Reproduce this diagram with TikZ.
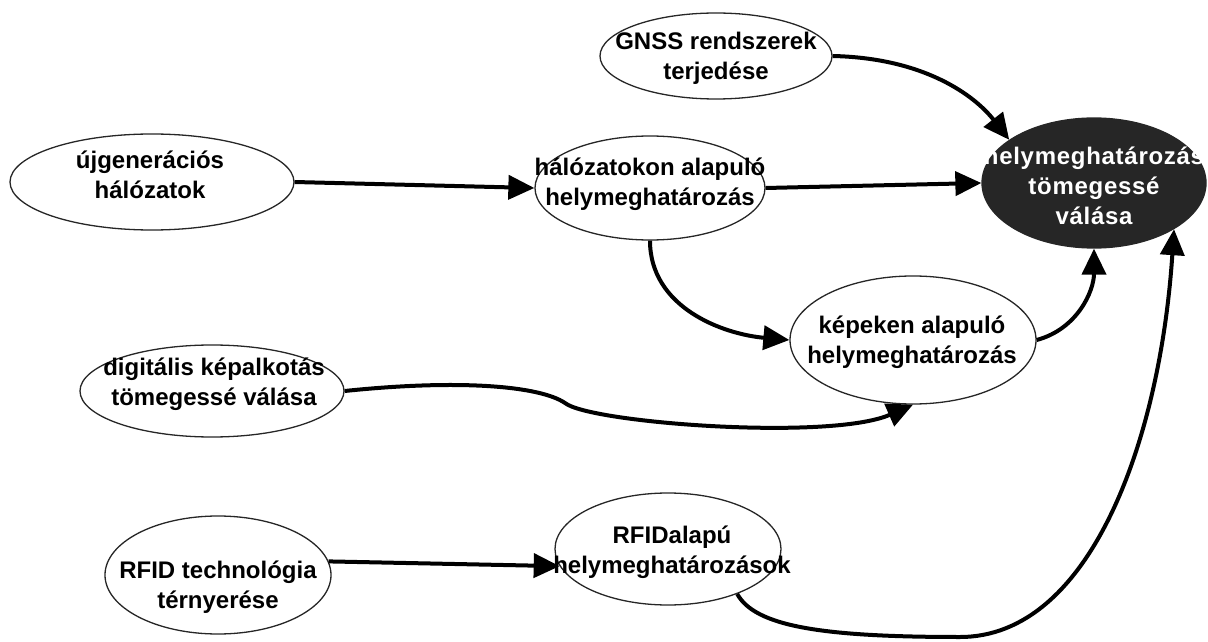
\documentclass[tikz,border=0pt]{standalone}
\usepackage{fontspec}
\setmainfont{Liberation Sans}
\usetikzlibrary{shapes.geometric,arrows.meta}
\begin{document}
\begin{tikzpicture}[x=1pt,y=1pt,
  ell/.style={draw=black!85, line width=1.3pt, ellipse, inner sep=0pt, fill=white},
  dark/.style={ell, fill=black!85},
  lbl/.style={font=\bfseries\fontsize{24}{30}\selectfont, align=center, inner sep=0pt},
  wlbl/.style={lbl, text=white, font=\bfseries\fontsize{24}{30}\selectfont\addfontfeature{LetterSpace=3}},
  conn/.style={line width=4pt, -{Triangle[length=26pt,width=24pt]}},
]
\useasboundingbox (0,0) rectangle (1208,641);
% ellipses
\node[ell, minimum width=232pt, minimum height=86pt] (gnss) at (716,585) {};
\node[dark, minimum width=224pt, minimum height=130pt] (target) at (1094,458) {};
\node[ell, minimum width=284pt, minimum height=96pt] (ujgen) at (152,459) {};
\node[ell, minimum width=230pt, minimum height=104pt] (halo) at (650,453) {};
\node[ell, minimum width=246pt, minimum height=128pt] (kep) at (913,301) {};
\node[ell, minimum width=264pt, minimum height=92pt] (digit) at (212,250) {};
\node[ell, minimum width=226pt, minimum height=118pt] (rfidt) at (218,66) {};
\node[ell, minimum width=226pt, minimum height=112pt] (rfida) at (668,92) {};
% texts
\node[lbl] (gnss-t) at (716,583) {GNSS rendszerek\\terjedése};
\node[wlbl] (target-t) at (1094,455) {helymeghatározás\\tömegessé\\válása};
\node[lbl] (ujgen-t) at (150,466) {újgenerációs\\hálózatok};
\node[lbl] (halo-t) at (650,457) {hálózatokon alapuló\\helymeghatározás};
\node[lbl] (kep-t) at (912,299) {képeken alapuló\\helymeghatározás};
\node[lbl] (digit-t) at (214,257) {digitális képalkotás\\tömegessé válása};
\node[lbl] (rfidt-t) at (218,54) {RFID technológia\\térnyerése};
\node[lbl] (rfida-t) at (672,89) {RFIDalapú\\helymeghatározások};
% connectors
\draw[conn] (gnss.east) .. controls (925,583) and (975,545) .. (target.153);
\draw[conn] (ujgen.east) -- (halo.west);
\draw[conn] (halo.east) -- (target.west);
\draw[conn] (halo.south) to[out=-90,in=175] (kep.west);
\draw[conn] (kep.east) to[out=15,in=-90] (target.south);
\draw[conn] (digit.east) .. controls (460,262) and (540,255) .. (565,238)
  .. controls (590,218) and (830,200) .. (kep.south);
\draw[conn] (rfidt.7) -- (rfida.189);
\draw[conn] (rfida.-33) .. controls (755,15) and (820,4) .. (960,4)
  .. controls (1090,4) and (1160,200) .. (target.-30);
\end{tikzpicture}
\end{document}
